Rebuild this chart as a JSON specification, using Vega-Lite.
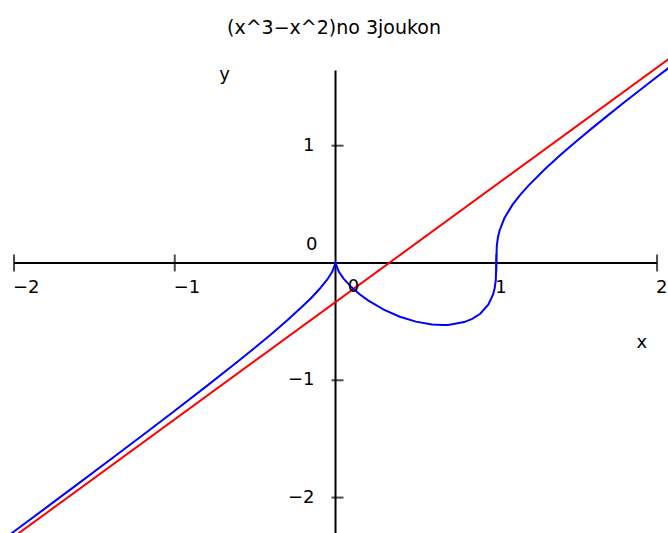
{
  "$schema": "https://vega.github.io/schema/vega-lite/v6.json",
  "width": 668,
  "height": 533,
  "autosize": {"type": "none"},
  "padding": 0,
  "background": "white",
  "config": {"view": {"stroke": null}, "text": {"font": "DejaVu Sans", "fontSize": 18, "color": "black"}},
  "title": {"text": "(x^3−x^2)no 3joukon", "font": "DejaVu Sans", "fontSize": 19, "fontWeight": "normal", "color": "black", "anchor": "middle", "baseline": "middle", "offset": -27, "dy": 20},
  "datasets": {
    "axes": [
      {"name": "x axis", "x": -2, "x2": 2, "y": 0, "y2": 0},
      {"name": "y axis", "x": 0, "x2": 0, "y": -2.4, "y2": 1.64}
    ],
    "xticks": [{"v": -2, "label": "−2"}, {"v": -1, "label": "−1"}, {"v": 1, "label": "1"}, {"v": 2, "label": "2"}],
    "yticks": [{"v": -2, "label": "−2"}, {"v": -1, "label": "−1"}, {"v": 1, "label": "1"}],
    "origin": [{"x": 0, "y": 0, "label": "0"}],
    "asymptote": [{"x": -2.15, "y": -2.4833}, {"x": 2.1, "y": 1.7667}],
    "curve": [
      {"x": -2.1, "y": -2.391}, {"x": -2.0, "y": -2.289}, {"x": -1.8, "y": -2.086}, {"x": -1.6, "y": -1.881},
      {"x": -1.4, "y": -1.676}, {"x": -1.2, "y": -1.469}, {"x": -1.0, "y": -1.26}, {"x": -0.8, "y": -1.048},
      {"x": -0.6, "y": -0.832}, {"x": -0.5, "y": -0.721}, {"x": -0.4, "y": -0.607}, {"x": -0.3, "y": -0.489},
      {"x": -0.2, "y": -0.363}, {"x": -0.15, "y": -0.296}, {"x": -0.1, "y": -0.222}, {"x": -0.05, "y": -0.138},
      {"x": -0.02, "y": -0.074}, {"x": 0, "y": 0}, {"x": 0.02, "y": -0.073}, {"x": 0.05, "y": -0.133},
      {"x": 0.1, "y": -0.208}, {"x": 0.15, "y": -0.267}, {"x": 0.2, "y": -0.317}, {"x": 0.3, "y": -0.398},
      {"x": 0.4, "y": -0.458}, {"x": 0.5, "y": -0.5}, {"x": 0.6, "y": -0.524}, {"x": 0.667, "y": -0.529},
      {"x": 0.7, "y": -0.528}, {"x": 0.8, "y": -0.504}, {"x": 0.85, "y": -0.477}, {"x": 0.9, "y": -0.433},
      {"x": 0.95, "y": -0.356}, {"x": 0.98, "y": -0.268}, {"x": 0.99, "y": -0.214}, {"x": 0.997, "y": -0.144},
      {"x": 1.0, "y": 0}, {"x": 1.003, "y": 0.145}, {"x": 1.01, "y": 0.217}, {"x": 1.02, "y": 0.275},
      {"x": 1.05, "y": 0.381}, {"x": 1.1, "y": 0.495}, {"x": 1.15, "y": 0.583}, {"x": 1.2, "y": 0.66},
      {"x": 1.3, "y": 0.797}, {"x": 1.4, "y": 0.922}, {"x": 1.5, "y": 1.04}, {"x": 1.6, "y": 1.154},
      {"x": 1.7, "y": 1.265}, {"x": 1.8, "y": 1.374}, {"x": 1.9, "y": 1.481}, {"x": 2.0, "y": 1.587},
      {"x": 2.1, "y": 1.693}
    ],
    "intersection": [{"x": 0.1111, "y": -0.2222, "label": "0"}],
    "axisTitles": [{"x": -0.69, "y": 1.6, "label": "y"}, {"x": 1.905, "y": -0.68, "label": "x"}]
  },
  "layer": [
    {
      "data": {"name": "axes"},
      "mark": {"type": "rule", "color": "black", "strokeWidth": 2, "clip": true},
      "encoding": {
        "x": {"field": "x", "type": "quantitative", "scale": {"domain": [-2.087, 2.068], "nice": false, "zero": false}, "axis": null},
        "x2": {"field": "x2"},
        "y": {"field": "y", "type": "quantitative", "scale": {"domain": [-2.302, 2.242], "nice": false, "zero": false}, "axis": null},
        "y2": {"field": "y2"}
      }
    },
    {
      "data": {"name": "xticks"},
      "mark": {"type": "tick", "orient": "vertical", "color": "black", "size": 17, "thickness": 2},
      "encoding": {
        "x": {"field": "v", "type": "quantitative"},
        "y": {"datum": 0, "type": "quantitative"}
      }
    },
    {
      "data": {"name": "yticks"},
      "mark": {"type": "tick", "orient": "horizontal", "color": "black", "size": 12, "thickness": 2, "xOffset": 2},
      "encoding": {
        "x": {"datum": 0, "type": "quantitative"},
        "y": {"field": "v", "type": "quantitative"}
      }
    },
    {
      "data": {"name": "asymptote"},
      "mark": {"type": "line", "color": "#ff0000", "strokeWidth": 2, "clip": true},
      "encoding": {
        "x": {"field": "x", "type": "quantitative"},
        "y": {"field": "y", "type": "quantitative"}
      }
    },
    {
      "data": {"name": "curve"},
      "mark": {"type": "line", "color": "#0000ff", "strokeWidth": 2, "clip": true},
      "encoding": {
        "x": {"field": "x", "type": "quantitative"},
        "y": {"field": "y", "type": "quantitative"}
      }
    },
    {
      "data": {"name": "xticks"},
      "mark": {"type": "text", "align": "left", "baseline": "middle", "dy": 25, "dx": -1},
      "encoding": {
        "x": {"field": "v", "type": "quantitative"},
        "y": {"datum": 0, "type": "quantitative"},
        "text": {"field": "label"}
      }
    },
    {
      "data": {"name": "yticks"},
      "mark": {"type": "text", "align": "right", "baseline": "middle", "dx": -21},
      "encoding": {
        "x": {"datum": 0, "type": "quantitative"},
        "y": {"field": "v", "type": "quantitative"},
        "text": {"field": "label"}
      }
    },
    {
      "data": {"name": "origin"},
      "mark": {"type": "text", "align": "right", "baseline": "middle", "dx": -18, "dy": -18},
      "encoding": {
        "x": {"field": "x", "type": "quantitative"},
        "y": {"field": "y", "type": "quantitative"},
        "text": {"field": "label"}
      }
    },
    {
      "data": {"name": "intersection"},
      "mark": {"type": "text", "align": "center", "baseline": "middle", "dy": -2},
      "encoding": {
        "x": {"field": "x", "type": "quantitative"},
        "y": {"field": "y", "type": "quantitative"},
        "text": {"field": "label"}
      }
    },
    {
      "data": {"name": "axisTitles"},
      "mark": {"type": "text", "align": "center", "baseline": "middle"},
      "encoding": {
        "x": {"field": "x", "type": "quantitative"},
        "y": {"field": "y", "type": "quantitative"},
        "text": {"field": "label"}
      }
    }
  ]
}
